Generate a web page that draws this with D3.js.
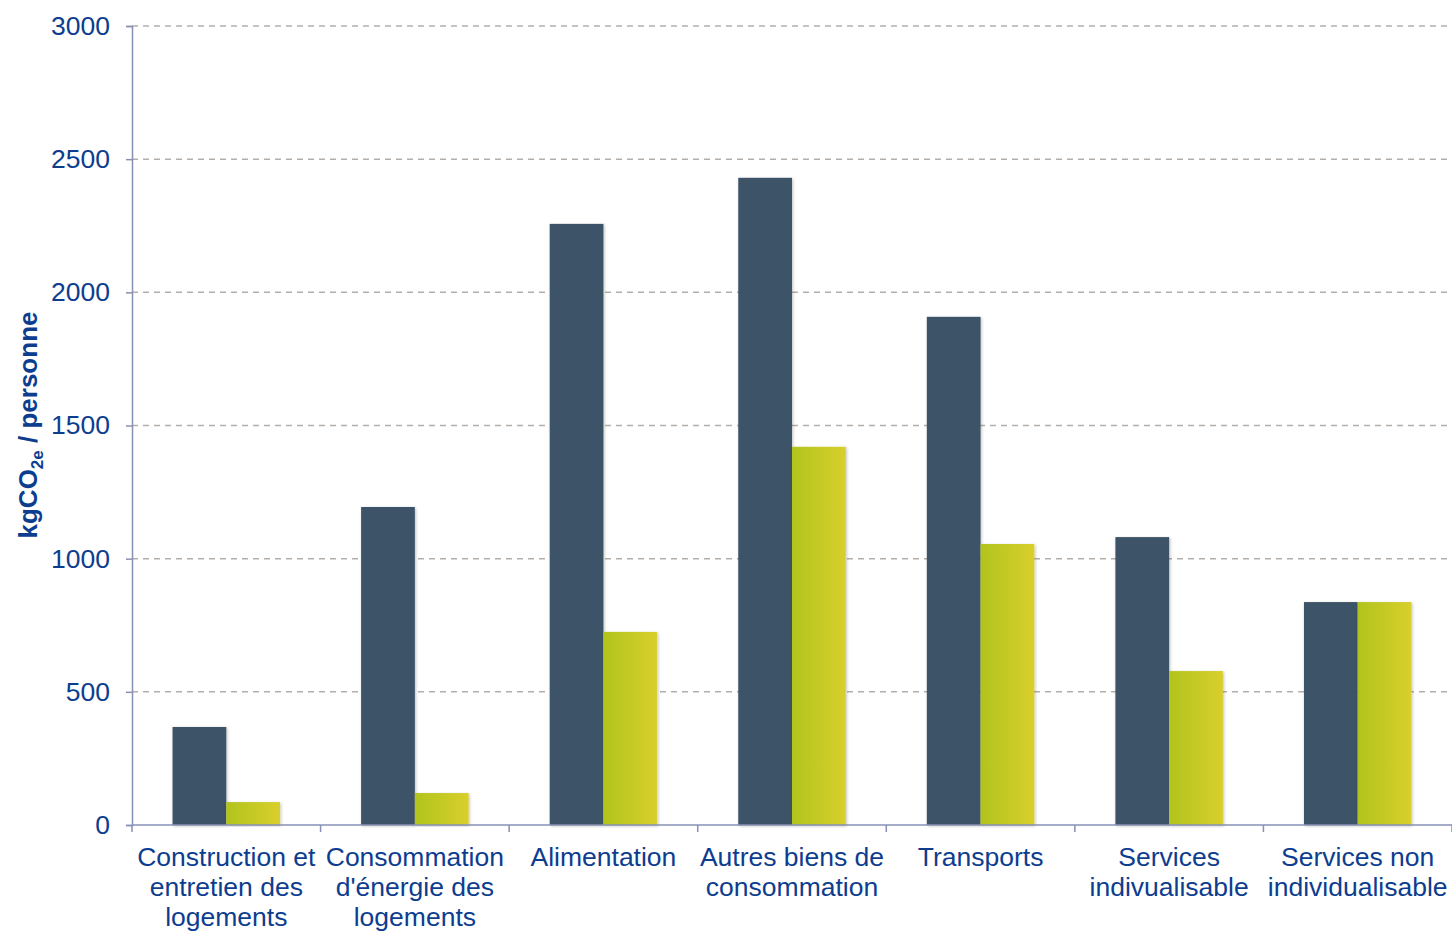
<!DOCTYPE html>
<html>
<head>
<meta charset="utf-8">
<script src="https://cdn.jsdelivr.net/npm/d3@7"></script>
<style>
  body { margin: 0; background: #fff; }
  svg { display: block; font-family: "Liberation Sans", Arial, sans-serif; }
</style>
</head>
<body>
<div id="chart"></div>
<script>
const categories = [
  ["Construction et", "entretien des", "logements"],
  ["Consommation", "d'énergie des", "logements"],
  ["Alimentation"],
  ["Autres biens de", "consommation"],
  ["Transports"],
  ["Services", "indivualisable"],
  ["Services non", "individualisable"]
]
const seriesA = [368, 1194, 2257, 2430, 1908, 1081, 837]
const seriesB = [86, 120, 725, 1420, 1055, 578, 837]
const yTicks = [0, 500, 1000, 1500, 2000, 2500, 3000]

const width = 1452
const height = 931
const margin = { top: 26, right: 0, bottom: 106, left: 132 }
const textColor = '#0d3d8f'
const axisColor = '#8790b5'

const svg = d3.select('#chart')
  .append('svg')
  .attr('width', width)
  .attr('height', height)

const defs = svg.append('defs')
const grad = defs.append('linearGradient')
  .attr('id', 'greenGrad')
  .attr('x1', '0%').attr('x2', '100%')
  .attr('y1', '0%').attr('y2', '0%')
grad.append('stop').attr('offset', '0%').attr('stop-color', '#b1c41d')
grad.append('stop').attr('offset', '100%').attr('stop-color', '#d9cf2d')

const shadow = defs.append('filter')
  .attr('id', 'shadow')
  .attr('x', '-20%').attr('y', '-5%')
  .attr('width', '140%').attr('height', '110%')
shadow.append('feDropShadow')
  .attr('dx', 1).attr('dy', 1)
  .attr('stdDeviation', 1.5)
  .attr('flood-color', '#000')
  .attr('flood-opacity', 0.25)

const x = d3.scaleBand()
  .domain(d3.range(categories.length))
  .range([margin.left, width - margin.right])
  .paddingInner(0)
  .paddingOuter(0)

const y = d3.scaleLinear()
  .domain([0, 3000])
  .range([height - margin.bottom, margin.top])

// Gridlines (dashed)
svg.append('g')
  .selectAll('line')
  .data(yTicks.filter(d => d > 0))
  .join('line')
  .attr('x1', margin.left)
  .attr('x2', width - margin.right)
  .attr('y1', d => y(d))
  .attr('y2', d => y(d))
  .attr('stroke', '#b3aeaa')
  .attr('stroke-width', 1.5)
  .attr('stroke-dasharray', '6,5')

// Bars
const groupWidth = x.bandwidth() * 0.57
const barWidth = groupWidth / 2

const groups = svg.append('g')
  .selectAll('g')
  .data(categories.map((c, i) => i))
  .join('g')
  .attr('transform', i => `translate(${x(i) + (x.bandwidth() - groupWidth) / 2}, 0)`)

groups.append('rect')
  .attr('x', 0)
  .attr('width', barWidth)
  .attr('y', i => y(seriesA[i]))
  .attr('height', i => y(0) - y(seriesA[i]))
  .attr('fill', '#3d5368')
  .attr('filter', 'url(#shadow)')

groups.append('rect')
  .attr('x', barWidth)
  .attr('width', barWidth)
  .attr('y', i => y(seriesB[i]))
  .attr('height', i => y(0) - y(seriesB[i]))
  .attr('fill', 'url(#greenGrad)')
  .attr('filter', 'url(#shadow)')

// Y axis
const yAxis = svg.append('g')
  .attr('transform', `translate(${margin.left},0)`)
  .call(d3.axisLeft(y).tickValues(yTicks).tickSize(6).tickPadding(16).tickFormat(d3.format('d')))
yAxis.select('.domain').attr('stroke', axisColor).attr('stroke-width', 1.5)
yAxis.selectAll('.tick line').attr('stroke', axisColor).attr('stroke-width', 1.5)
yAxis.selectAll('.tick text')
  .attr('fill', textColor)
  .attr('font-size', 26.5)
  .attr('font-family', '"Liberation Sans", Arial, sans-serif')

// X axis
const xAxisG = svg.append('g')
  .attr('transform', `translate(0,${y(0)})`)
xAxisG.append('line')
  .attr('x1', margin.left)
  .attr('x2', width - margin.right)
  .attr('stroke', axisColor)
  .attr('stroke-width', 1.5)
xAxisG.selectAll('line.tick')
  .data(d3.range(categories.length + 1))
  .join('line')
  .attr('class', 'tick')
  .attr('x1', i => margin.left + i * x.step())
  .attr('x2', i => margin.left + i * x.step())
  .attr('y1', 0)
  .attr('y2', 7)
  .attr('stroke', axisColor)
  .attr('stroke-width', 1.5)

// Category labels
const labels = svg.append('g')
  .selectAll('text')
  .data(categories)
  .join('text')
  .attr('text-anchor', 'middle')
  .attr('fill', textColor)
  .attr('font-size', 26.5)
  .attr('transform', (d, i) => `translate(${x(i) + x.bandwidth() / 2}, ${y(0) + 41})`)

labels.selectAll('tspan')
  .data(d => d)
  .join('tspan')
  .attr('x', 0)
  .attr('dy', (d, j) => j === 0 ? 0 : 30)
  .text(d => d)

// Y axis title
const title = svg.append('text')
  .attr('transform', `translate(37, 425) rotate(-90)`)
  .attr('text-anchor', 'middle')
  .attr('fill', textColor)
  .attr('font-size', 26)
  .attr('font-weight', 'bold')
title.append('tspan').text('kgCO')
title.append('tspan').attr('font-size', 17).attr('dy', 6).text('2e')
title.append('tspan').attr('dy', -6).text(' / personne')
</script>
</body>
</html>
